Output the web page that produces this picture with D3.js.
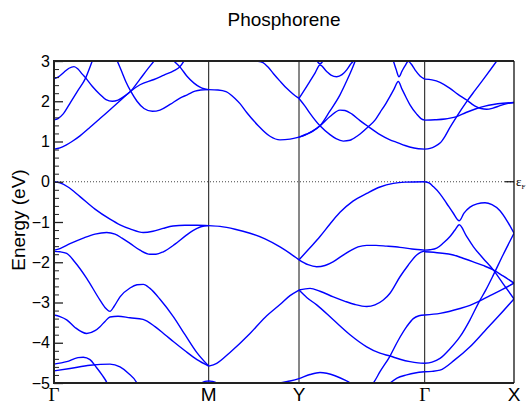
<!DOCTYPE html>
<html><head><meta charset="utf-8">
<script src="https://cdn.jsdelivr.net/npm/d3@7/dist/d3.min.js"></script>
<style>body{margin:0;background:#fff}svg{display:block}</style>
</head><body><svg id="c" width="527" height="404"></svg>
<script>
// High-symmetry points along the k-path (path distance, arb. units)
const kLabels = ["Γ", "M", "Y", "Γ", "X"];
const kPositions = [0, 1.547, 2.45, 3.707, 4.60];
const energyTicks = [-5, -4, -3, -2, -1, 0, 1, 2, 3];
const energyRange = [-5, 3];
const fermiLevel = 0;

// Segment Γ–M : bands as [k, E(eV)]
const bandsGM = [
  [[0,2.56],[.04,2.6],[.10,2.72],[.15,2.82],[.20,2.86],[.24,2.8],[.28,2.68],[.317,2.58],[.38,2.38],[.46,2.17],[.52,2.04],[.583,2.0],[.64,2.03],[.70,2.12],[.767,2.25],[.86,2.55],[.93,2.78],[1.0,3.0],[1.03,3.1]],
  [[0,1.54],[.04,1.57],[.09,1.68],[.167,1.98],[.24,2.27],[.317,2.58],[.36,2.85],[.39,3.05]],
  [[.62,3.08],[.633,3.0],[.68,2.72],[.72,2.48],[.767,2.25],[.83,2.0],[.90,1.82],[.983,1.75],[1.06,1.78],[1.16,1.92],[1.26,2.08],[1.333,2.16],[1.41,2.25],[1.467,2.28],[1.547,2.29]],
  [[0,0.81],[.06,0.84],[.12,0.91],[.18,1.0],[.26,1.14],[.35,1.33],[.46,1.57],[.56,1.79],[.66,2.01],[.767,2.25],[.86,2.41],[1.0,2.54],[1.10,2.65],[1.20,2.76],[1.26,2.86],[1.30,3.0],[1.32,3.08]],
  [[1.18,3.06],[1.20,3.0],[1.267,2.83],[1.33,2.62],[1.40,2.45],[1.46,2.35],[1.50,2.31],[1.547,2.29]],
  [[0,0],[.06,-0.03],[.14,-0.13],[.26,-0.37],[.41,-0.68],[.56,-0.93],[.66,-1.07],[.76,-1.17],[.893,-1.26],[.99,-1.23],[1.09,-1.16],[1.19,-1.1],[1.31,-1.08],[1.43,-1.08],[1.547,-1.09]],
  [[0,-1.70],[.06,-1.66],[.16,-1.54],[.293,-1.40],[.41,-1.30],[.527,-1.26],[.61,-1.3],[.68,-1.4],[.76,-1.53],[.86,-1.70],[.96,-1.80],[1.02,-1.8],[1.093,-1.74],[1.21,-1.55],[1.327,-1.32],[1.43,-1.16],[1.50,-1.1],[1.547,-1.09]],
  [[0,-1.73],[.06,-1.74],[.127,-1.78],[.21,-2.0],[.327,-2.40],[.46,-2.94],[.52,-3.15],[.56,-3.22],[.60,-3.1],[.66,-2.86],[.76,-2.64],[.83,-2.56],[.893,-2.55],[.96,-2.65],[1.06,-2.92],[1.193,-3.35],[1.31,-3.8],[1.427,-4.24],[1.547,-4.58]],
  [[0,-3.31],[.06,-3.35],[.127,-3.43],[.21,-3.62],[.327,-3.77],[.41,-3.7],[.46,-3.6],[.51,-3.47],[.56,-3.36],[.64,-3.34],[.76,-3.38],[.89,-3.42],[1.01,-3.6],[1.11,-3.8],[1.193,-3.97],[1.31,-4.2],[1.43,-4.42],[1.547,-4.58]],
  [[0,-4.53],[.127,-4.47],[.24,-4.37],[.293,-4.36],[.36,-4.42],[.42,-4.6],[.48,-4.8],[.53,-5.0],[.54,-5.06]],
  [[0,-4.70],[.16,-4.64],[.36,-4.56],[.56,-4.53],[.66,-4.6],[.74,-4.75],[.83,-5.0],[.84,-5.05]],
  [[1.46,-5.06],[1.477,-5.0],[1.51,-4.96],[1.547,-4.95],[1.58,-4.96],[1.627,-5.0],[1.64,-5.06]]
];

// Segment M–Y
const bandsMY = [
  [[1.547,2.29],[1.64,2.28],[1.72,2.24],[1.81,2.07],[1.86,1.94],[1.927,1.72],[2.04,1.40],[2.16,1.13],[2.26,1.04],[2.36,1.06],[2.45,1.11]],
  [[1.84,3.06],[1.96,3.0],[2.04,2.99],[2.09,2.96],[2.14,2.85],[2.193,2.69],[2.26,2.5],[2.327,2.32],[2.39,2.18],[2.45,2.07]],
  [[1.547,-1.09],[1.66,-1.11],[1.81,-1.18],[1.96,-1.28],[2.11,-1.42],[2.26,-1.62],[2.36,-1.78],[2.45,-1.94]],
  [[1.547,-4.58],[1.627,-4.51],[1.76,-4.24],[1.96,-3.77],[2.11,-3.37],[2.26,-3.05],[2.36,-2.83],[2.45,-2.69]],
  [[2.22,-5.06],[2.26,-5.0],[2.36,-4.95],[2.45,-4.89],[2.56,-4.79],[2.66,-4.74],[2.81,-4.82],[2.91,-4.93],[2.96,-5.0],[2.98,-5.06]]
];

// Segment Y–Γ
const bandsYG = [
  [[2.45,1.11],[2.51,1.16],[2.58,1.25],[2.66,1.39],[2.76,1.62],[2.86,1.78],[2.91,1.77],[2.98,1.68],[3.06,1.52],[3.143,1.37],[3.26,1.17],[3.36,1.04],[3.427,0.98],[3.51,0.9],[3.60,0.84],[3.707,0.81]],
  [[2.45,2.07],[2.51,1.88],[2.56,1.70],[2.66,1.39],[2.76,1.17],[2.82,1.07],[2.893,1.01],[2.96,1.03],[3.04,1.15],[3.143,1.37],[3.21,1.53],[3.26,1.72],[3.32,1.95],[3.36,2.12],[3.40,2.3],[3.443,2.49],[3.48,2.3],[3.52,2.1],[3.56,1.91],[3.627,1.68],[3.67,1.57],[3.707,1.53]],
  [[2.45,1.11],[2.52,1.18],[2.59,1.26],[2.66,1.39],[2.76,1.76],[2.86,2.16],[2.93,2.52],[2.98,2.8],[3.02,3.05]],
  [[2.45,2.07],[2.51,2.3],[2.56,2.5],[2.61,2.7],[2.66,2.9],[2.727,2.74],[2.77,2.65],[2.827,2.61],[2.88,2.66],[2.927,2.78],[2.96,2.9],[2.993,3.0],[3.01,3.06]],
  [[2.615,3.06],[2.66,2.93],[2.705,3.06]],
  [[3.38,3.06],[3.393,3.0],[3.42,2.8],[3.45,2.61],[3.48,2.75],[3.51,2.88],[3.543,2.99],[3.57,2.93],[3.61,2.78],[3.66,2.63],[3.707,2.55]],
  [[2.45,-1.94],[2.56,-1.64],[2.66,-1.36],[2.76,-1.05],[2.86,-0.76],[2.99,-0.48],[3.127,-0.29],[3.26,-0.13],[3.393,-0.04],[3.51,-0.01],[3.707,0]],
  [[2.45,-1.94],[2.54,-2.06],[2.627,-2.11],[2.71,-2.08],[2.79,-1.99],[2.88,-1.84],[2.96,-1.72],[3.04,-1.62],[3.127,-1.58],[3.22,-1.58],[3.327,-1.60],[3.46,-1.63],[3.58,-1.67],[3.707,-1.70]],
  [[2.45,-2.69],[2.56,-2.65],[2.66,-2.72],[2.793,-2.86],[2.91,-2.97],[3.01,-3.05],[3.127,-3.10],[3.21,-3.06],[3.293,-2.94],[3.36,-2.77],[3.46,-2.36],[3.54,-2.08],[3.627,-1.82],[3.67,-1.75],[3.707,-1.72]],
  [[2.45,-2.69],[2.53,-2.88],[2.627,-3.06],[2.793,-3.43],[2.96,-3.80],[3.127,-4.10],[3.26,-4.26],[3.36,-4.33],[3.46,-4.41],[3.56,-4.47],[3.64,-4.5],[3.707,-4.51]],
  [[3.17,-5.06],[3.193,-5.0],[3.26,-4.72],[3.36,-4.33],[3.44,-3.95],[3.527,-3.6],[3.593,-3.4],[3.65,-3.33],[3.707,-3.31]],
  [[3.33,-5.06],[3.36,-5.0],[3.43,-4.88],[3.527,-4.8],[3.61,-4.75],[3.707,-4.72]]
];

// Segment Γ–X
const bandsGX = [
  [[3.707,2.55],[3.78,2.53],[3.86,2.47],[3.96,2.32],[4.04,2.17],[4.127,2.03],[4.18,1.93],[4.227,1.86],[4.27,1.82],[4.327,1.80],[4.39,1.83],[4.46,1.89],[4.53,1.94],[4.60,1.97]],
  [[3.707,1.53],[3.81,1.54],[3.91,1.56],[3.96,1.58],[4.027,1.62],[4.12,1.72],[4.227,1.82],[4.31,1.88],[4.393,1.92],[4.49,1.95],[4.60,1.97]],
  [[3.707,0.81],[3.76,0.83],[3.81,0.88],[3.86,0.96],[3.91,1.13],[3.96,1.35],[4.027,1.62],[4.127,1.99],[4.21,2.27],[4.31,2.6],[4.427,3.0],[4.45,3.08]],
  [[3.707,0],[3.75,-0.03],[3.793,-0.12],[3.86,-0.3],[3.927,-0.54],[3.99,-0.77],[4.053,-0.97],[4.10,-0.78],[4.16,-0.63],[4.23,-0.55],[4.31,-0.52],[4.38,-0.57],[4.46,-0.72],[4.53,-0.97],[4.60,-1.28]],
  [[3.707,-1.70],[3.76,-1.69],[3.827,-1.65],[3.89,-1.53],[3.96,-1.36],[4.01,-1.2],[4.053,-1.07],[4.12,-1.33],[4.193,-1.61],[4.29,-1.9],[4.393,-2.19],[4.49,-2.53],[4.60,-2.91]],
  [[3.707,-1.74],[3.86,-1.77],[3.993,-1.82],[4.09,-1.9],[4.193,-1.99],[4.29,-2.08],[4.393,-2.19],[4.49,-2.34],[4.60,-2.52]],
  [[3.707,-3.31],[3.86,-3.27],[4.06,-3.15],[4.16,-3.07],[4.243,-2.98],[4.36,-2.83],[4.48,-2.68],[4.60,-2.52]],
  [[3.707,-4.51],[3.78,-4.48],[3.86,-4.39],[3.96,-4.15],[4.06,-3.85],[4.16,-3.43],[4.243,-3.02],[4.32,-2.68],[4.393,-2.32],[4.49,-1.82],[4.60,-1.28]],
  [[3.707,-4.72],[3.78,-4.71],[3.86,-4.68],[4.01,-4.42],[4.16,-4.10],[4.31,-3.7],[4.46,-3.3],[4.60,-2.91]]
];

const W = 527, H = 404;
const plot = {left: 54, right: 514, top: 61, bottom: 383};
const svg = d3.select("#c");
const x = d3.scaleLinear().domain([kPositions[0], kPositions[kPositions.length-1]]).range([plot.left, plot.right]);
const y = d3.scaleLinear().domain(energyRange).range([plot.bottom, plot.top]);
const sans = "'Liberation Sans', Arial, Helvetica, sans-serif";

svg.append("defs").append("clipPath").attr("id","clip")
  .append("rect").attr("x", plot.left).attr("y", plot.top)
  .attr("width", plot.right-plot.left).attr("height", plot.bottom-plot.top);

// Fermi level
svg.append("line")
  .attr("x1", x(kPositions[0])).attr("x2", x(kPositions[4]))
  .attr("y1", y(fermiLevel)).attr("y2", y(fermiLevel))
  .attr("stroke", "#444").attr("stroke-width", 1).attr("stroke-dasharray", "1,2");

// High-symmetry vertical lines
svg.selectAll("line.ksym").data(kPositions.slice(1, 4)).join("line")
  .attr("class","ksym")
  .attr("x1", d => x(d)).attr("x2", d => x(d))
  .attr("y1", plot.top).attr("y2", plot.bottom)
  .attr("stroke", "#111").attr("stroke-width", 1);

// Bands
const line = d3.line().x(d => x(d[0])).y(d => y(d[1])).curve(d3.curveMonotoneX);
const allBands = [].concat(bandsGM, bandsMY, bandsYG, bandsGX);
svg.append("g").attr("clip-path","url(#clip)")
  .selectAll("path").data(allBands).join("path")
  .attr("d", line).attr("fill","none")
  .attr("stroke", "#0000ff").attr("stroke-width", 1.4);

// Left axis: minor and major inward ticks
const minorTicks = d3.range(energyRange[0], energyRange[1] + 1e-9, 0.2).filter(v => Math.abs(v - Math.round(v)) > 1e-6);
svg.append("g").attr("transform", `translate(${plot.left},0)`)
  .call(d3.axisLeft(y).tickValues(minorTicks).tickSize(-5).tickFormat(""))
  .call(g => g.select(".domain").remove())
  .call(g => g.selectAll("line").attr("stroke","#222").attr("stroke-width",1));
const yAxis = svg.append("g").attr("transform", `translate(${plot.left},0)`)
  .call(d3.axisLeft(y).tickValues(energyTicks).tickSize(-9).tickPadding(4).tickFormat(d3.format("d")))
  .call(g => g.select(".domain").remove());
yAxis.selectAll("line").attr("stroke","#222").attr("stroke-width",1.3);
yAxis.selectAll("text").attr("font-family", sans).attr("font-size", 16).attr("fill","#000");

// Right axis tick at Fermi level
svg.append("line").attr("x1", plot.right - 9).attr("x2", plot.right)
  .attr("y1", y(fermiLevel)).attr("y2", y(fermiLevel)).attr("stroke","#111").attr("stroke-width",1.2);
const ef = svg.append("text").attr("x", plot.right + 2).attr("y", y(fermiLevel) + 4)
  .attr("font-family", "'Liberation Serif', serif").attr("font-size", 13).attr("fill","#000");
ef.append("tspan").text("ε");
ef.append("tspan").attr("dy", 3).attr("font-size", 7).text("F");

// Frame
const frame = svg.append("g").attr("stroke","#222").attr("fill","none");
frame.append("line").attr("x1",plot.left).attr("x2",plot.right).attr("y1",plot.top).attr("y2",plot.top).attr("stroke-width",2);
frame.append("line").attr("x1",plot.left).attr("x2",plot.right).attr("y1",plot.bottom).attr("y2",plot.bottom).attr("stroke-width",2);
frame.append("line").attr("x1",plot.left).attr("x2",plot.left).attr("y1",plot.top-1).attr("y2",plot.bottom+1).attr("stroke-width",2);
frame.append("line").attr("x1",plot.right).attr("x2",plot.right).attr("y1",plot.top).attr("y2",plot.bottom).attr("stroke-width",1.3).attr("stroke","#111");

// k-point labels
svg.selectAll("text.klab").data(kLabels).join("text")
  .attr("class","klab")
  .attr("x", (d,i) => x(kPositions[i])).attr("y", plot.bottom + 18)
  .attr("text-anchor","middle")
  .attr("font-family", d => d === "Γ" ? "'Liberation Serif', serif" : sans)
  .attr("font-size", 19).attr("fill","#000").text(d => d);

// Title and axis label
svg.append("text").attr("x", (plot.left+plot.right)/2).attr("y", 26)
  .attr("text-anchor","middle").attr("font-family", sans).attr("font-size", 19).text("Phosphorene");
svg.append("text").attr("transform", `translate(25,${(plot.top+plot.bottom)/2 - 2}) rotate(-90)`)
  .attr("text-anchor","middle").attr("font-family", sans).attr("font-size", 19).text("Energy (eV)");
</script></body></html>
